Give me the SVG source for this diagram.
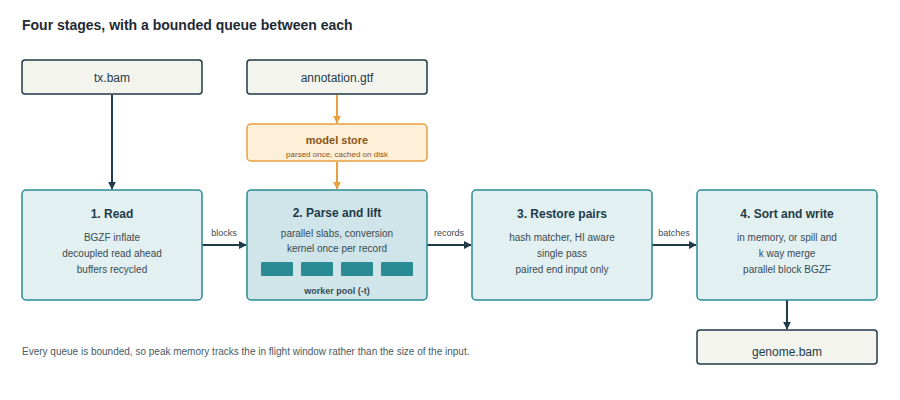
<svg xmlns="http://www.w3.org/2000/svg" width="900" height="400" viewBox="0 0 900 400">
<defs>
<marker id="ad" viewBox="0 0 10 10" refX="9" refY="5" markerWidth="8" markerHeight="8" markerUnits="userSpaceOnUse" orient="auto"><path d="M0,0L10,5L0,10z" fill="#1f3a48"/></marker>
<marker id="ao" viewBox="0 0 10 10" refX="9" refY="5" markerWidth="8" markerHeight="8" markerUnits="userSpaceOnUse" orient="auto"><path d="M0,0L10,5L0,10z" fill="#e8a040"/></marker>
</defs>
<style>
text{font-family:"Liberation Sans",Arial,sans-serif;text-anchor:middle}
.file{fill:#f3f4ee;stroke:#1f3a48;stroke-width:1.5}
.stage{fill:#e2f0f1;stroke:#2a8b94;stroke-width:1.5}
.t{font-size:12px;fill:#1f3a48}
.h{font-size:12px;font-weight:bold;fill:#1f3a48}
.b{font-size:10px;fill:#3a4a52}
.l{font-size:9px;fill:#3a4a52}
.c{stroke:#1f3a48;stroke-width:2;fill:none;marker-end:url(#ad)}
.co{stroke:#e8a040;stroke-width:2;fill:none;marker-end:url(#ao)}
.w{fill:#2a8b94}
</style>
<rect width="900" height="400" fill="#fff"/>
<text x="22" y="30" style="text-anchor:start;font-size:14px;font-weight:bold;fill:#1f2a33">Four stages, with a bounded queue between each</text>
<g id="connectors">
<path class="c" d="M112,95V189"/>
<path class="co" d="M337,95V123"/>
<path class="co" d="M337,162V189"/>
<path class="c" d="M202,245H246"/>
<path class="c" d="M427,245H471"/>
<path class="c" d="M652,245H696"/>
<path class="c" d="M787,300V329"/>
<text class="l" x="224" y="236">blocks</text>
<text class="l" x="449" y="236">records</text>
<text class="l" x="674" y="236">batches</text>
</g>
<g id="txbam"><rect class="file" x="22" y="60" width="180" height="34" rx="3"/><text class="t" x="112" y="82">tx.bam</text></g>
<g id="gtf"><rect class="file" x="247" y="60" width="180" height="34" rx="3"/><text class="t" x="337" y="82">annotation.gtf</text></g>
<g id="model"><rect x="247" y="124" width="180" height="37" rx="4" fill="#fdefd8" stroke="#e8a040" stroke-width="1.5"/><text x="337" y="144" style="font-size:11px;font-weight:bold;fill:#8a5518">model store</text><text x="337" y="157" style="font-size:8px;fill:#8a5518">parsed once, cached on disk</text></g>
<g id="read"><rect class="stage" x="22" y="190" width="180" height="110" rx="4"/><text class="h" x="112" y="218">1. Read</text><text class="b" x="112" y="241">BGZF inflate</text><text class="b" x="112" y="257">decoupled read ahead</text><text class="b" x="112" y="273">buffers recycled</text></g>
<g id="parse"><rect x="247" y="190" width="180" height="110" rx="4" fill="#cfe5ea" stroke="#2a8b94" stroke-width="1.5"/><text class="h" x="337" y="217">2. Parse and lift</text><text class="b" x="337" y="237">parallel slabs, conversion</text><text class="b" x="337" y="252">kernel once per record</text>
<rect class="w" x="261" y="262" width="32" height="14" rx="1"/><rect class="w" x="301" y="262" width="32" height="14" rx="1"/><rect class="w" x="341" y="262" width="32" height="14" rx="1"/><rect class="w" x="381" y="262" width="32" height="14" rx="1"/>
<text x="337" y="294" style="font-size:9px;font-weight:bold;fill:#3a4a52">worker pool (-t)</text></g>
<g id="restore"><rect class="stage" x="472" y="190" width="180" height="110" rx="4"/><text class="h" x="562" y="218">3. Restore pairs</text><text class="b" x="562" y="241">hash matcher, HI aware</text><text class="b" x="562" y="257">single pass</text><text class="b" x="562" y="273">paired end input only</text></g>
<g id="sort"><rect class="stage" x="697" y="190" width="180" height="110" rx="4"/><text class="h" x="787" y="218">4. Sort and write</text><text class="b" x="787" y="241">in memory, or spill and</text><text class="b" x="787" y="257">k way merge</text><text class="b" x="787" y="273">parallel block BGZF</text></g>
<g id="genome"><rect class="file" x="697" y="330" width="180" height="34" rx="3"/><text class="t" x="787" y="356">genome.bam</text></g>
<text x="22" y="355" style="text-anchor:start;font-size:10px;fill:#4a5a62">Every queue is bounded, so peak memory tracks the in flight window rather than the size of the input.</text>
</svg>
